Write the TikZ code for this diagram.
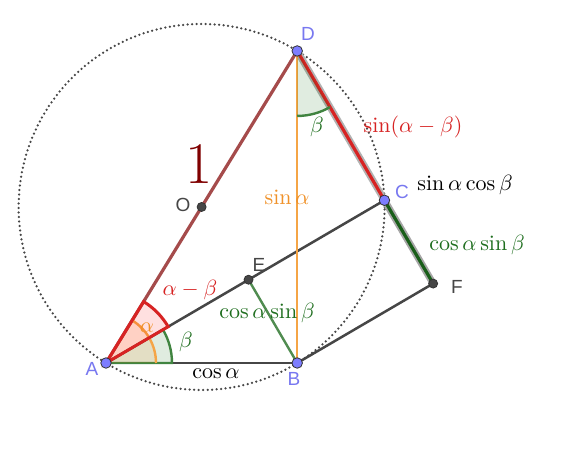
\documentclass[tikz,border=0pt]{standalone}
\usepackage{fontspec}
\newfontfamily\labfont{Liberation Sans}
\usetikzlibrary{calc}
\definecolor{ptblue}{RGB}{125,125,255}
\definecolor{lblblue}{RGB}{120,120,240}
\definecolor{dgray}{RGB}{70,70,70}
\definecolor{adred}{RGB}{165,75,75}
\definecolor{bred}{RGB}{215,35,35}
\definecolor{dgreen}{RGB}{30,110,30}
\definecolor{lgreen}{RGB}{80,140,80}
\definecolor{orng}{RGB}{245,165,70}
\definecolor{orngtxt}{RGB}{240,145,40}
\definecolor{onered}{RGB}{128,0,0}
\tikzset{
  bpt/.style={circle,draw=black!80,fill=ptblue,line width=0.8pt,inner sep=0pt,minimum size=10.5pt},
  gpt/.style={circle,draw=black!80,fill=dgray,line width=0.8pt,inner sep=0pt,minimum size=9pt},
  seg/.style={line width=2.5pt,draw=dgray},
  plab/.style={font=\labfont\fontsize{19}{21}\selectfont,inner sep=0pt},
  mlab/.style={font=\fontsize{10}{12}\selectfont,inner sep=0pt,scale=2.2,transform shape},
}
\begin{document}
\begin{tikzpicture}[x=1pt,y=1pt]
\useasboundingbox (0,0) rectangle (587,450);
\fill[white] (0,0) rectangle (587,450);
\coordinate (A) at (106,87);
\coordinate (D) at ($(A)+(58.5:366)$);
\coordinate (O) at ($(A)!0.5!(D)$);
\coordinate (B) at (A -| D);
\coordinate (G) at ($(A)+(30.3:100)$);
\coordinate (C) at ($(A)!(D)!(G)$);
\coordinate (E) at ($(A)!(B)!(G)$);
\coordinate (F) at ($(B)+(C)-(E)$);
% circle
\draw[dgray,line width=2.5pt,dash pattern=on 0pt off 4.5pt,line cap=round] (O) circle[radius=183pt];
% highlights
\draw[line width=7pt,black!30] (D) -- (C);
\draw[line width=7pt,black!35] (C) -- (F);
% segments
\draw[seg] (A) -- (B);
\draw[seg] (A) -- (C);
\draw[seg] (B) -- (F);
\draw[line width=2.4pt,lgreen] (E) -- (B);
\draw[line width=2.4pt,orng] (D) -- (B);
\draw[line width=3.2pt,adred] (A) -- (D);
\draw[line width=3.2pt,bred] (D) -- (C);
\draw[line width=3.2pt,dgreen!85!black] (C) -- (F);
% angles at A
\draw[dgreen!85,line width=2.4pt,fill=green!40!black,fill opacity=0.12] (A) -- ++(0:66) arc[start angle=0,end angle=30.3,radius=66pt] -- cycle;
\fill[orange,opacity=0.12] (A) -- ++(0:50) arc[start angle=0,end angle=58.5,radius=50pt] -- cycle;
\draw[orng,line width=2.4pt] ($(A)+(0:50)$) arc[start angle=0,end angle=58.5,radius=50pt];
\draw[bred,line width=3pt,fill=red,fill opacity=0.12] (A) -- ++(30.3:72) arc[start angle=30.3,end angle=58.5,radius=72pt] -- cycle;
% angle at D
\fill[green!40!black,opacity=0.12] (D) -- ++(-90:65) arc[start angle=-90,end angle=-59.7,radius=65pt] -- cycle;
\draw[dgreen!85,line width=2.4pt] ($(D)+(-90:65)$) arc[start angle=-90,end angle=-59.7,radius=65pt];
% points
\node[gpt] (pO) at (O) {};
\node[gpt] (pE) at (E) {};
\node[gpt] (pF) at (F) {};
\node[bpt] (pA) at (A) {};
\node[bpt] (pB) at (B) {};
\node[bpt] (pC) at (C) {};
\node[bpt] (pD) at (D) {};
% point labels
\node[plab,text=lblblue] (lD) at (308,416) {D};
\node[plab,text=lblblue] (lA) at (92,81) {A};
\node[plab,text=lblblue] (lB) at (294,71) {B};
\node[plab,text=lblblue] (lC) at (402,258) {C};
\node[plab,text=dgray] (lO) at (183,245) {O};
\node[plab,text=dgray] (lE) at (259,185) {E};
\node[plab,text=dgray] (lF) at (457,163) {F};
% math labels
\node[inner sep=0pt,text=onered,font=\fontsize{59}{60}\selectfont] (one) at (199,286) {1};
\node[mlab,text=bred] (t1) at (413,323) {$\sin(\alpha-\beta)$};
\node[mlab,text=black] (t2) at (465,265) {$\sin\alpha\cos\beta$};
\node[mlab,text=dgreen] (t3) at (477,205) {$\cos\alpha\sin\beta$};
\node[mlab,text=dgreen] (t4) at (267,137) {$\cos\alpha\sin\beta$};
\node[mlab,text=orngtxt] (t5) at (287,253) {$\sin\alpha$};
\node[mlab,text=black] (t6) at (216,76) {$\cos\alpha$};
\node[mlab,text=bred] (t7) at (190,160) {$\alpha-\beta$};
\node[mlab,text=orngtxt] (t8) at (147,122) {$\alpha$};
\node[mlab,text=dgreen] (t9) at (186,108) {$\beta$};
\node[mlab,text=dgreen] (t10) at (317,323) {$\beta$};
\end{tikzpicture}
\end{document}
